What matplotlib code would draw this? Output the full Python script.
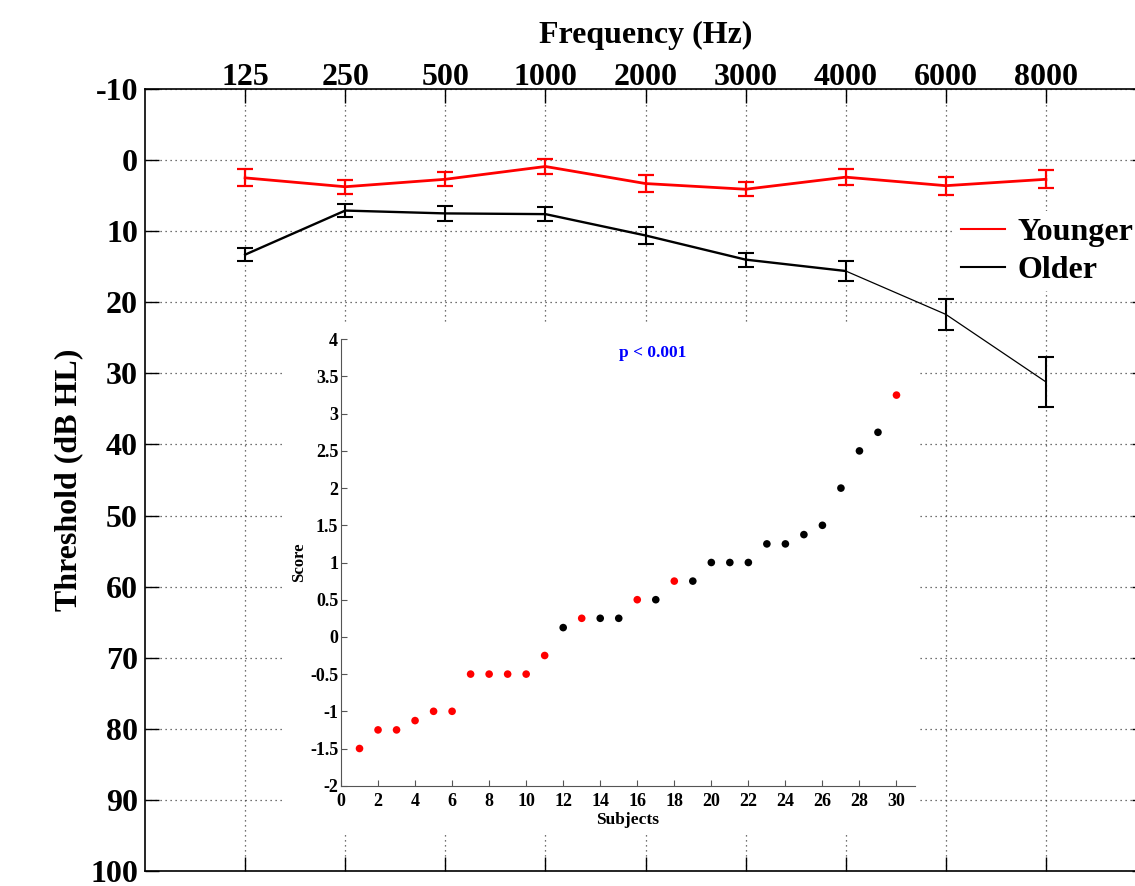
import matplotlib
matplotlib.use("Agg")
import matplotlib.pyplot as plt
import numpy as np
from matplotlib.lines import Line2D

plt.rcParams['font.family'] = ['Liberation Serif', 'DejaVu Serif']
plt.rcParams['font.weight'] = 'bold'
plt.rcParams['axes.unicode_minus'] = False

# ---- main audiogram data ----
freq_labels = ['125', '250', '500', '1000', '2000', '3000', '4000', '6000', '8000']
younger_mean = [2.5, 3.75, 2.7, 0.9, 3.3, 4.1, 2.4, 3.6, 2.7]
younger_err = [1.2, 1.0, 1.0, 1.1, 1.2, 1.0, 1.15, 1.25, 1.25]
older_mean = [13.3, 7.1, 7.5, 7.6, 10.6, 14.0, 15.6, 21.7, 31.2]
older_err = [0.9, 0.9, 1.1, 1.0, 1.2, 1.0, 1.35, 2.15, 3.5]
y_ticks = [-10, 0, 10, 20, 30, 40, 50, 60, 70, 80, 90, 100]

# ---- inset data ----
subjects = list(range(1, 31))
scores = [-1.5, -1.25, -1.25, -1.125, -1.0, -1.0, -0.5, -0.5, -0.5, -0.5,
          -0.25, 0.125, 0.25, 0.25, 0.25, 0.5, 0.5, 0.75, 0.75, 1.0,
          1.0, 1.0, 1.25, 1.25, 1.375, 1.5, 2.0, 2.5, 2.75, 3.25]
group = ['Y', 'Y', 'Y', 'Y', 'Y', 'Y', 'Y', 'Y', 'Y', 'Y',
         'Y', 'O', 'Y', 'O', 'O', 'Y', 'O', 'Y', 'O', 'O',
         'O', 'O', 'O', 'O', 'O', 'O', 'O', 'O', 'O', 'Y']

W, H = 1135, 886
fig = plt.figure(figsize=(W / 100, H / 100), dpi=100)

# main axes (extends slightly beyond right edge like the reference)
ax = fig.add_axes([145 / W, 1 - 871 / H, (1146 - 145) / W, (871 - 89) / H])
x = np.arange(1, len(freq_labels) + 1)

ax.errorbar(x, younger_mean, yerr=younger_err, color='red', lw=2.0,
            elinewidth=1.6, capsize=6, capthick=1.6, zorder=3)
# older: thick up to 4000 Hz, thin afterwards
ax.plot(x[:7], older_mean[:7], color='black', lw=1.7, zorder=3)
ax.plot(x[6:], older_mean[6:], color='black', lw=0.9, zorder=3)
ax.errorbar(x, older_mean, yerr=older_err, color='black', lw=0,
            elinewidth=1.5, capsize=6, capthick=1.5, zorder=3)

ax.set_xlim(0, 10)
ax.set_ylim(100, -10)
ax.set_yticks(y_ticks)
ax.set_yticklabels([str(v) for v in y_ticks], fontsize=23, fontweight='bold')
ax.set_xticks(x)
ax.set_xticklabels(freq_labels, fontsize=23, fontweight='bold')
ax.tick_params(axis='x', top=True, bottom=True, labeltop=True, labelbottom=False,
               direction='in', length=10, width=1, pad=-2)
ax.tick_params(axis='y', left=True, right=True, direction='in', length=10, width=1, pad=5)
ax.xaxis.set_label_position('top')
ax.set_xlabel('Frequency (Hz)', fontsize=23, fontweight='bold', labelpad=14)
ax.set_ylabel('Threshold (dB HL)', fontsize=23, fontweight='bold', labelpad=5)
ax.grid(True, linestyle=(0, (1, 3)), color='#444444', lw=0.9)
for s in ax.spines.values():
    s.set_linewidth(1.2)

handles = [Line2D([], [], color='red', lw=1.5), Line2D([], [], color='black', lw=1.5)]
leg = fig.legend(handles, ['Younger', 'Older'], loc='upper left',
                 bbox_to_anchor=(955 / W, 1 - 211 / H), frameon=True,
                 prop={'size': 23, 'weight': 'bold'}, handlelength=1.35,
                 handletextpad=0.4, labelspacing=0.28, borderpad=0.2,
                 borderaxespad=0)
leg.get_frame().set_edgecolor('none')
leg.get_frame().set_facecolor('white')
leg.get_frame().set_alpha(1)

# white background patch for inset
bg = fig.add_axes([283 / W, 1 - 833 / H, (920 - 283) / W, (833 - 323) / H])
bg.set_facecolor('white')
bg.set_xticks([]); bg.set_yticks([])
for s in bg.spines.values():
    s.set_visible(False)

# inset axes
ins = fig.add_axes([341 / W, 1 - 785.7 / H, (915 - 341) / W, (785.7 - 339.3) / H])
cols = ['red' if g == 'Y' else 'black' for g in group]
ins.scatter(subjects, scores, c=cols, s=30, zorder=3, linewidths=0)
ins.set_xlim(0, 31)
ins.set_ylim(-2, 4)
ins.set_xticks(np.arange(0, 31, 2))
ins.set_yticks(np.arange(-2, 4.01, 0.5))
ins.set_yticklabels(['%g' % v for v in np.arange(-2, 4.01, 0.5)], fontsize=13, fontweight='bold')
ins.set_xticklabels([str(v) for v in np.arange(0, 31, 2)], fontsize=13, fontweight='bold')
ins.tick_params(direction='in', length=4, width=0.8, color='#555555')
ins.tick_params(axis='x', pad=5)
ins.tick_params(axis='y', pad=2)
ins.spines['top'].set_visible(False)
ins.spines['right'].set_visible(False)
ins.spines['left'].set_color('#555555')
ins.spines['bottom'].set_color('#555555')
ins.set_xlabel('Subjects', fontsize=12.5, fontweight='bold', labelpad=2)
ins.set_ylabel('Score', fontsize=12, fontweight='bold', labelpad=2)
ins.text(15.0, 3.82, 'p < 0.001', color='blue', fontsize=12.5, fontweight='bold',
         ha='left', va='center')

fig.savefig('out.png', dpi=100)
